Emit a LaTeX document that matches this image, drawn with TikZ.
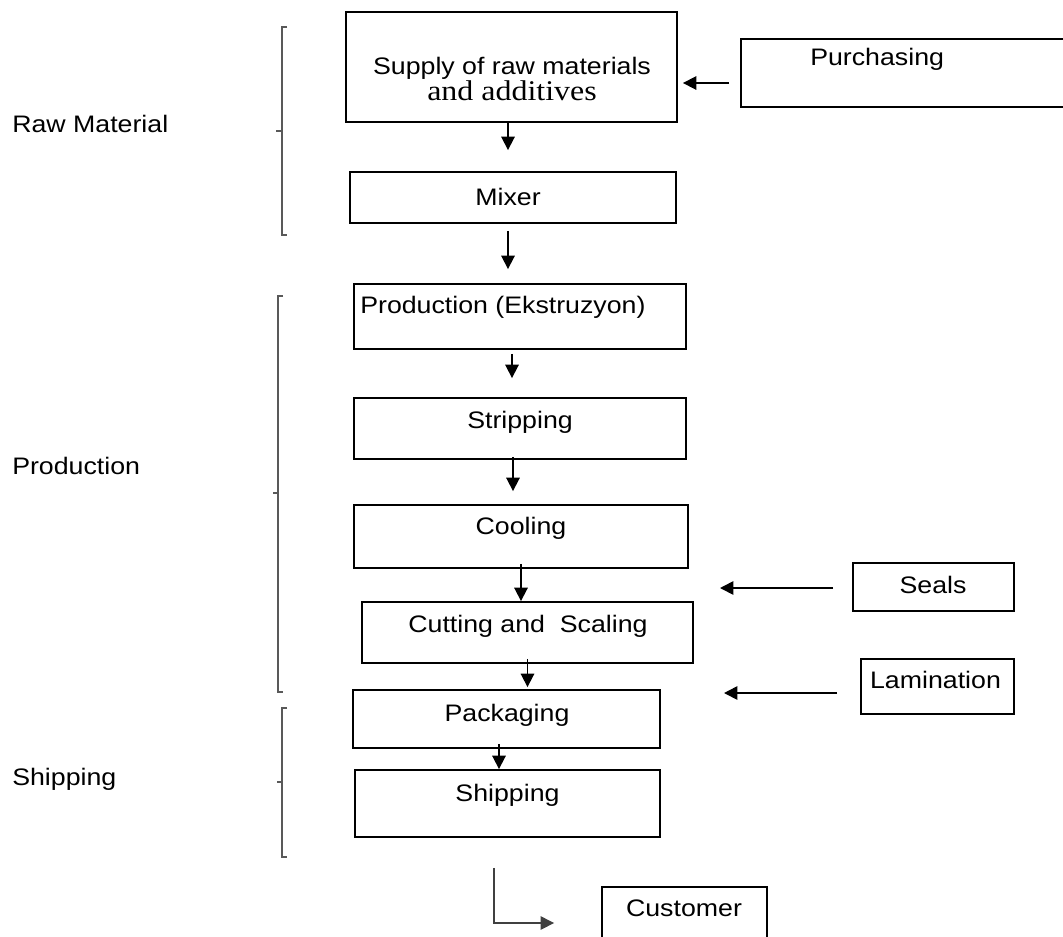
\documentclass[tikz,border=0pt]{standalone}
\usepackage{fontspec}
\setmainfont{Liberation Sans}[FakeStretch=1.12]
\newfontfamily\serifface{Liberation Serif}[FakeStretch=1.12]
\usetikzlibrary{arrows.meta,calc}
\newdimen\px
\setlength{\px}{0.75pt}

\begin{document}
\begin{tikzpicture}[x=\px,y=-\px]
\tikzset{box/.style 2 args={draw, line width=1.4pt, minimum width=#1\px, minimum height=#2\px, inner sep=0pt}}%
\tikzset{txt/.style={inner sep=0pt, anchor=base, font=\fontsize{17.9}{21}\selectfont}}%
\tikzset{arr/.style={line width=1.3pt, -{Triangle[length=10pt,width=10pt]}}}%
\tikzset{brace/.style={draw=black!65, line width=1pt}}%
\useasboundingbox (0,0) rectangle (1063,936);
% main chain
\node[box={331}{110}] (supply) at (511.5,67) {};
\node[txt] (supply-a) at (512,74) {Supply of raw materials};
\node[txt, font=\serifface\fontsize{21.4}{24}\selectfont] (supply-b) at (512,100) {and additives};
\node[box={326}{51}] (mixer) at (513,197.5) {};
\node[txt] (mixer-t) at (508,205) {Mixer};
\node[box={332}{65}] (prod) at (520,316.5) {};
\node[txt, anchor=base west] (prod-t) at (360,313) {Production (Ekstruzyon)};
\node[box={332}{61}] (strip) at (520,428.5) {};
\node[txt] (strip-t) at (520,428) {Stripping};
\node[box={334}{63}] (cool) at (521,536.5) {};
\node[txt] (cool-t) at (521,534) {Cooling};
\node[box={331}{61}] (cut) at (527.5,632.5) {};
\node[txt] (cut-t) at (528,632) {Cutting and\ \ Scaling};
\node[box={307}{58}] (pack) at (506.5,719) {};
\node[txt] (pack-t) at (507,721) {Packaging};
\node[box={305}{67}] (ship) at (507.5,803.5) {};
\node[txt] (ship-t) at (507.5,801) {Shipping};
\node[box={165}{63}] (cust) at (684.5,918.5) {};
\node[txt] (cust-t) at (684,916) {Customer};
% side inputs
\node[box={334}{68}] (purch) at (908,73) {};
\node[txt, anchor=base west] (purch-t) at (810,65) {Purchasing};
\node[box={161}{48}] (seals) at (933.5,587) {};
\node[txt] (seals-t) at (933,593) {Seals};
\node[box={153}{55}] (lam) at (937.5,686.5) {};
\node[txt] (lam-t) at (935.5,688) {Lamination};
\coordinate (seals-in) at (720,588);
\coordinate (lam-in) at (724,693);
% arrows
\draw[arr, shorten >=21\px] ($(supply.south)+(-3.5,0)$) -- ($(supply.south |- mixer.north)+(-3.5,0)$);
\draw[arr, shorten <=7\px, shorten >=14\px] ($(mixer.south)+(-5,0)$) -- ($(mixer.south |- prod.north)+(-5,0)$);
\draw[arr, shorten <=4\px, shorten >=19\px] ($(prod.south)+(-8,0)$) -- ($(prod.south |- strip.north)+(-8,0)$);
\draw[arr, shorten <=-3\px, shorten >=13\px] ($(strip.south)+(-7,0)$) -- ($(strip.south |- cool.north)+(-7,0)$);
\draw[arr, shorten <=-5\px] (cool.south) -- (cool.south |- cut.north);
\draw[arr, shorten <=-5\px, shorten >=2\px] (cut.south) -- (cut.south |- pack.north);
\draw[arr, shorten <=-5\px] ($(pack.south)+(-7.5,0)$) -- ($(pack.south |- ship.north)+(-7.5,0)$);
\draw[arr, line width=1pt, draw=black!75] ($(ship.south)+(-13.5,30)$) |- ($(cust.west)+(-47,4.5)$);
\draw[arr] ($(purch.west)+(-11,10)$) -- ($(supply.east)+(5,16)$);
\draw[arr] ($(seals.west)+(-19,1)$) -- (seals-in);
\draw[arr] ($(lam.west)+(-23,6.5)$) -- (lam-in);
% brackets
\draw[brace] (287,27) -- (282,27) -- (282,235) -- (287,235);
\draw[brace] (282,131) -- (276,131);
\draw[brace] (283,296) -- (278,296) -- (278,692) -- (283,692);
\draw[brace] (278,493) -- (273,493);
\draw[brace] (287,708) -- (282,708) -- (282,857) -- (287,857);
\draw[brace] (282,782) -- (277,782);
\node[txt, anchor=base west] (raw-l) at (12,132) {Raw Material};
\node[txt, anchor=base west] (prod-l) at (12,474) {Production};
\node[txt, anchor=base west] (ship-l) at (12,785) {Shipping};
\end{tikzpicture}
\end{document}
